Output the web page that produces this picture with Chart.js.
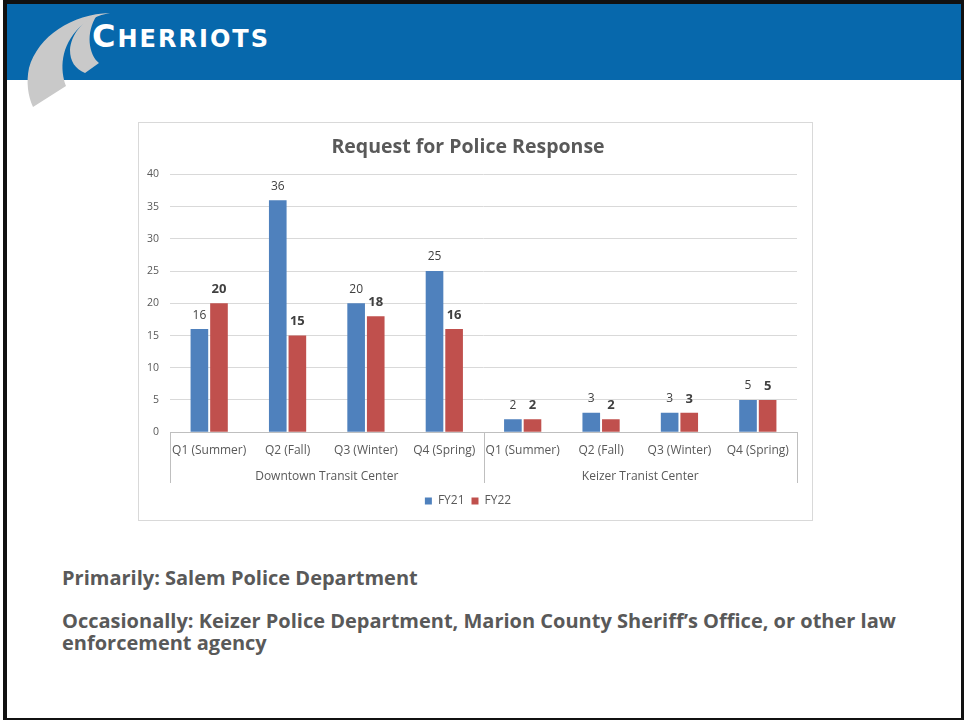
<!DOCTYPE html>
<html>
<head>
<meta charset="utf-8">
<script src="https://cdn.jsdelivr.net/npm/chart.js@4.4.1/dist/chart.umd.min.js"></script>
<style>
  body { margin: 0; width: 964px; height: 721px; background: #fff; position: relative; overflow: hidden; font-family: "Open Sans", sans-serif; }
  #frame { position: absolute; left: 3px; top: 0; width: 954px; height: 714px; border-style: solid; border-color: #111; border-width: 4px 3px 2px 4px; }
  #band { position: absolute; left: 7px; top: 4px; width: 954px; height: 76px; background: #0768ac; }
  #logo { position: absolute; left: 0; top: 0; }
  #chart-box { position: absolute; left: 138px; top: 122px; width: 673px; height: 397px; border: 1px solid #d9d9d9; background: #fff; }
  .note { position: absolute; left: 62px; color: #595959; font-weight: 700; font-size: 20px; line-height: 22px; white-space: nowrap; }
</style>
</head>
<body>
<div id="frame"></div>
<div id="band"></div>
<svg id="logo" width="300" height="110">
  <path d="M110,13 C72,14 38,36 29,68 C26,82 28,96 33,107 L66,86 C60,70 60,46 80,27 C88,20 98,15 110,13 Z" fill="#c9c9c9"/>
  <path d="M97,15 C82,21 71,35 70,50 C70,61 75,69 85,73 L99,63 C89,55 85,33 97,15 Z" fill="#c9c9c9"/>
  <text x="92" y="47" fill="#fff" font-family="DejaVu Sans" font-weight="700" font-size="24" textLength="176" lengthAdjust="spacing"><tspan font-size="32">C</tspan>HERRIOTS</text>
</svg>
<div id="chart-box"><canvas id="chart"></canvas></div>
<div class="note" style="top:567px;">Primarily: Salem Police Department</div>
<div class="note" style="top:610px;">Occasionally: Keizer Police Department, Marion County Sheriff’s Office, or other law<br>enforcement agency</div>

<script>
const categories = ["Q1 (Summer)", "Q2 (Fall)", "Q3 (Winter)", "Q4 (Spring)",
                    "Q1 (Summer)", "Q2 (Fall)", "Q3 (Winter)", "Q4 (Spring)"];
const groups = ["Downtown Transit Center", "Keizer Tranist Center"];
const fy21 = [16, 36, 20, 25, 2, 3, 3, 5];
const fy22 = [20, 15, 18, 16, 2, 2, 3, 5];
const yTicks = [0, 5, 10, 15, 20, 25, 30, 35, 40];

const textColor = "#595959";

// value labels above each bar (FY22 bold, like the original)
const barLabels = {
  id: "barLabels",
  afterDatasetsDraw(chart) {
    const ctx = chart.ctx;
    chart.data.datasets.forEach((ds, i) => {
      const meta = chart.getDatasetMeta(i);
      ctx.save();
      ctx.font = (i === 1 ? "bold 13px" : "12px") + " 'Open Sans'";
      ctx.fillStyle = "#404040";
      ctx.textAlign = "center";
      ctx.textBaseline = "middle";
      meta.data.forEach((bar, j) => {
        ctx.fillText(ds.data[j], bar.x, bar.y - 14);
      });
      ctx.restore();
    });
  }
};

// vertical separators between the two category groups
const groupLines = {
  id: "groupLines",
  afterDraw(chart) {
    const x = chart.scales.x;
    const x2 = chart.scales.x2;
    const half = categories.length / 2;
    const mid = (x.getPixelForValue(half - 1) + x.getPixelForValue(half)) / 2;
    const ctx = chart.ctx;
    ctx.save();
    ctx.strokeStyle = "#bfbfbf";
    ctx.lineWidth = 1;
    [x.left, mid, x.right].forEach((px) => {
      ctx.beginPath();
      ctx.moveTo(Math.round(px) + 0.5, x.top);
      ctx.lineTo(Math.round(px) + 0.5, x2.bottom - 5);
      ctx.stroke();
    });
    ctx.restore();
  }
};

const ctx = document.getElementById("chart").getContext("2d");
new Chart(ctx, {
  type: "bar",
  data: {
    labels: categories,
    datasets: [
      { label: "FY21", data: fy21, backgroundColor: "#4f81bd", categoryPercentage: 0.5, barPercentage: 0.9 },
      { label: "FY22", data: fy22, backgroundColor: "#c0504d", categoryPercentage: 0.5, barPercentage: 0.9 }
    ]
  },
  options: {
    responsive: true,
    maintainAspectRatio: false,
    animation: false,
    layout: { padding: { left: 0, right: 15, top: 0, bottom: 3 } },
    plugins: {
      title: {
        display: true,
        text: "Request for Police Response",
        color: textColor,
        font: { family: "'Open Sans'", size: 19.5, weight: "bold" },
        padding: { top: 13, bottom: 15 }
      },
      legend: {
        position: "bottom",
        labels: {
          boxWidth: 7,
          boxHeight: 7,
          padding: 7,
          color: textColor,
          font: { family: "'Open Sans'", size: 12 }
        }
      },
      tooltip: { enabled: false }
    },
    scales: {
      y: {
        min: yTicks[0],
        max: yTicks[yTicks.length - 1],
        afterBuildTicks: (scale) => { scale.ticks = yTicks.map((v) => ({ value: v })); },
        afterFit: (scale) => { scale.width = 31; },
        ticks: { color: textColor, padding: 11, font: { family: "'Open Sans'", size: 10.5 } },
        grid: { color: "#d9d9d9", drawTicks: false },
        border: { display: false }
      },
      x: {
        weight: 0,
        grid: { display: false, drawTicks: false },
        border: { display: true, color: "#bfbfbf" },
        ticks: { color: textColor, padding: 11, maxRotation: 0, autoSkip: false, font: { family: "'Open Sans'", size: 12 } }
      },
      x2: {
        type: "category",
        position: "bottom",
        weight: 1,
        labels: groups,
        offset: true,
        afterFit: (scale) => { scale.height += 3; },
        grid: { display: false, drawTicks: false },
        border: { display: false },
        ticks: { color: textColor, padding: 1, maxRotation: 0, font: { family: "'Open Sans'", size: 12 } }
      }
    }
  },
  plugins: [barLabels, groupLines]
});
</script>
</body>
</html>
